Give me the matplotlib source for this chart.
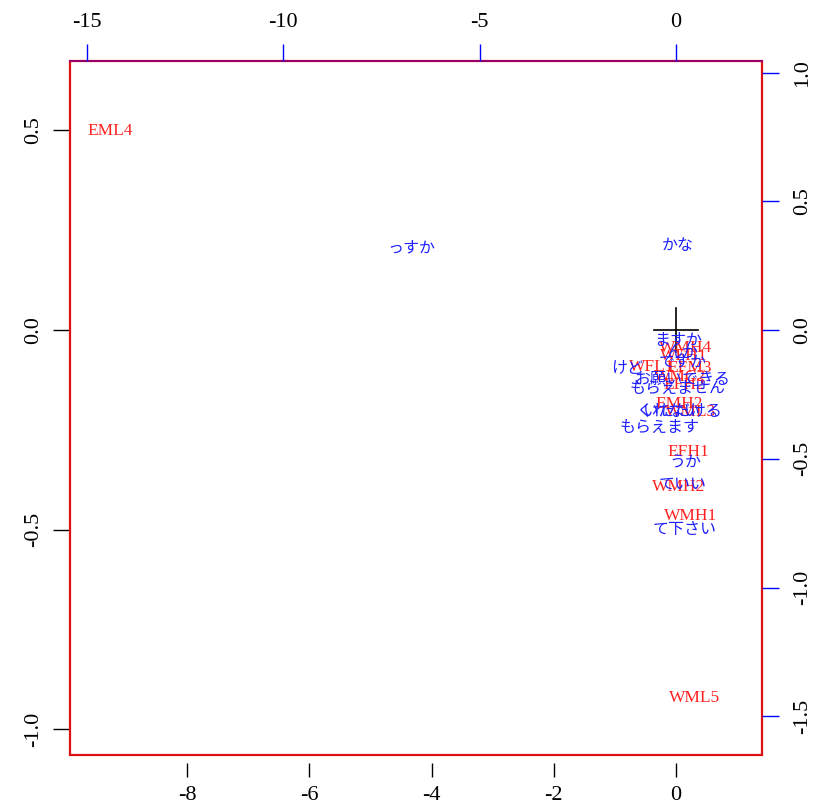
import matplotlib
matplotlib.use("Agg")
import matplotlib.pyplot as plt
from matplotlib.patches import Rectangle

# Row (red) scores - primary axes
row_labels = ["EML4", "WML5", "WMH1", "WMH2", "EFH1", "EMH2", "WMH4", "WFH1",
              "WFL1", "EFM3", "WMC2", "EFH2", "WML3"]
row_x = [-9.26, 0.31, 0.245, 0.05, 0.196, 0.05, 0.164, 0.13, -0.39, 0.23, 0.065, 0.13, 0.23]
row_y = [0.499, -0.922, -0.466, -0.393, -0.306, -0.185, -0.045, -0.065, -0.093, -0.095,
         -0.118, -0.138, -0.205]

# Column (blue) scores - secondary axes
col_labels = ["っすか", "かな", "ますか", "んか", "ですか", "けど", "お願いできる",
              "もらえません", "くれない", "いただける", "もらえます", "うか", "ていい", "て下さい"]
col_x = [-6.75, 0.05, 0.05, 0.18, 0.18, -1.25, 0.15, 0.03, -0.2, 0.18, -0.41, 0.23, 0.18, 0.23]
col_y = [0.318, 0.33, -0.039, -0.085, -0.124, -0.148, -0.19, -0.225, -0.315, -0.315,
         -0.377, -0.516, -0.598, -0.773]

bottom_ticks = [-8, -6, -4, -2, 0]
left_ticks = [0.5, 0.0, -0.5, -1.0]
top_ticks = [-15, -10, -5, 0]
right_ticks = [1.0, 0.5, 0.0, -0.5, -1.0, -1.5]

serif = "Liberation Serif"
jp = ["Noto Sans CJK JP", "DejaVu Sans"]

fig = plt.figure(figsize=(8.15, 8.05), dpi=100)
pos = [70 / 815, 1 - 755 / 805, (762.5 - 70) / 815, (755 - 61) / 805]
ax = fig.add_axes(pos)
ax.spines["bottom"].set_position(("outward", 6))
ax.set_xlim(-9.92, 1.415)
ax.set_ylim(-1.065, 0.674)

ax2 = fig.add_axes(pos, frameon=False)
ax2.set_xlim(-15.43, 2.20)
ax2.set_ylim(-1.650, 1.045)
ax2.patch.set_visible(False)

# primary ticks
ax.set_xticks(bottom_ticks)
ax.set_xticklabels([str(t) for t in bottom_ticks], fontfamily=serif, fontsize=16)
ax.set_yticks(left_ticks)
ax.set_yticklabels([f"{t:.1f}" for t in left_ticks], fontfamily=serif, fontsize=16,
                   rotation=90, va="center")
ax.tick_params(axis="x", direction="out", length=10, width=1, color="black", pad=6)
ax.tick_params(axis="y", direction="out", length=12, width=1, color="black", pad=7)
for s in ax.spines.values():
    s.set_visible(False)

# secondary ticks on top/right
ax2.xaxis.tick_top()
ax2.yaxis.tick_right()
ax2.set_xticks(top_ticks)
ax2.set_xticklabels([str(t) for t in top_ticks], fontfamily=serif, fontsize=16)
ax2.set_yticks(right_ticks)
ax2.set_yticklabels([f"{t:.1f}" for t in right_ticks], fontfamily=serif, fontsize=16,
                    rotation=90, va="center")
ax2.tick_params(axis="x", direction="out", length=12, width=1, color="blue", pad=9)
ax2.tick_params(axis="y", direction="out", length=12, width=1, color="blue", pad=10)
for s in ax2.spines.values():
    s.set_visible(False)

# box
ax.add_patch(Rectangle((0, 0), 1, 1, transform=ax.transAxes, fill=False,
                       edgecolor="#dd1111", lw=1.6, clip_on=False, zorder=5))
ax.plot([0, 1], [1, 1], transform=ax.transAxes, color="#990066", lw=1.4,
        clip_on=False, zorder=6)

# origin cross
ax.plot([-0.36, 0.36], [0, 0], color="black", lw=1.2)
ax.plot([0, 0], [-0.055, 0.055], color="black", lw=1.2)

for lab, x, y in zip(row_labels, row_x, row_y):
    ax.text(x, y, lab, color="#ff2020", fontfamily=serif, fontsize=12.5,
            ha="center", va="center")

for lab, x, y in zip(col_labels, col_x, col_y):
    ax2.text(x, y, lab, color="#2020ff", fontfamily=jp, fontsize=11.5,
             ha="center", va="center")

fig.savefig("out.png", dpi=100)
